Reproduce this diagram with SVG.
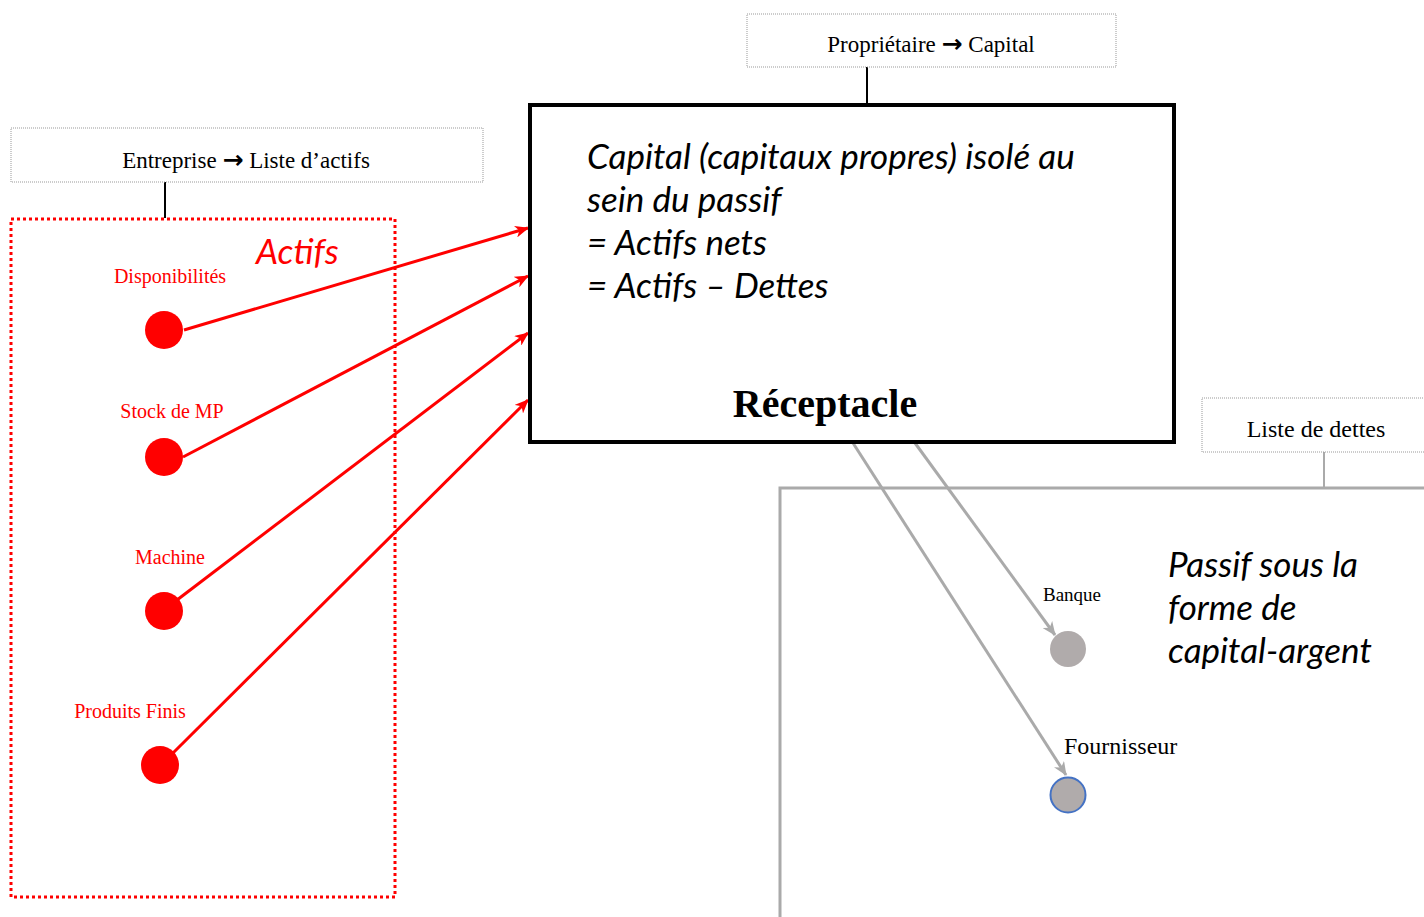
<svg xmlns="http://www.w3.org/2000/svg" width="1424" height="917" viewBox="0 0 1424 917">
<style>
.lbl{font-family:"Liberation Serif","Times New Roman",serif;fill:#000}
.arw{font-family:"DejaVu Sans",sans-serif;font-weight:bold}
.box{fill:#fff;stroke:#999;stroke-width:1;stroke-dasharray:1 1}
.ital{font-family:Lato,"Open Sans",sans-serif;font-style:italic}
.red{fill:#ff0000}
.rline{stroke:#ff0000;stroke-width:3;fill:none}
.gline{stroke:#aaaaaa;stroke-width:3;fill:none}
</style>
<defs>
<marker id="ar" markerUnits="userSpaceOnUse" markerWidth="14" markerHeight="12" refX="13" refY="6" orient="auto">
<path d="M0,0 L14,6 L0,12 L4,6 Z" fill="#ff0000"/>
</marker>
<marker id="ag" markerUnits="userSpaceOnUse" markerWidth="14" markerHeight="12" refX="13" refY="6" orient="auto">
<path d="M0,0 L14,6 L0,12 L4,6 Z" fill="#aaaaaa"/>
</marker>
</defs>
<rect width="1424" height="917" fill="#fff"/>

<g id="connectors">
<line x1="867" y1="67" x2="867" y2="105" stroke="#000" stroke-width="2"/>
<line x1="165" y1="182" x2="165" y2="218" stroke="#000" stroke-width="2"/>
<line x1="1324" y1="452" x2="1324" y2="488" stroke="#aaaaaa" stroke-width="2"/>
<line class="rline" x1="184" y1="330" x2="528" y2="228" marker-end="url(#ar)"/>
<line class="rline" x1="183" y1="457" x2="528" y2="276" marker-end="url(#ar)"/>
<line class="rline" x1="177" y1="600" x2="528" y2="333" marker-end="url(#ar)"/>
<line class="rline" x1="173" y1="753" x2="528" y2="400" marker-end="url(#ar)"/>
<line class="gline" x1="915" y1="443" x2="1055" y2="635" marker-end="url(#ag)"/>
<line class="gline" x1="853" y1="443" x2="1066" y2="775" marker-end="url(#ag)"/>
</g>

<g id="proprietaire">
<rect class="box" x="747" y="14" width="369" height="53"/>
<text class="lbl" x="931" y="52" font-size="23" text-anchor="middle">Propriétaire <tspan class="arw" font-size="25">→</tspan> Capital</text>
</g>

<g id="receptacle">
<rect x="530" y="105" width="644" height="337" fill="none" stroke="#000" stroke-width="4"/>
<text class="ital" font-size="35" fill="#000">
<tspan x="587" y="169">Capital (capitaux propres) isolé au</tspan>
<tspan x="587" y="212">sein du passif</tspan>
<tspan x="587" y="255">= Actifs nets</tspan>
<tspan x="587" y="298">= Actifs – Dettes</tspan>
</text>
<text class="lbl" x="825" y="417" font-size="40" font-weight="bold" text-anchor="middle">Réceptacle</text>
</g>

<g id="entreprise">
<rect class="box" x="11" y="128" width="472" height="54"/>
<text class="lbl" x="246" y="168" font-size="23" text-anchor="middle">Entreprise <tspan class="arw" font-size="25">→</tspan> Liste d’actifs</text>
</g>

<g id="actifs">
<rect x="11" y="219" width="384" height="678" fill="none" stroke="#ff0000" stroke-width="3" stroke-dasharray="3 3"/>
<text class="ital red" x="256" y="264" font-size="35">Actifs</text>
</g>

<g id="disponibilites">
<text class="lbl red" x="170" y="283" font-size="20" text-anchor="middle">Disponibilités</text>
<circle class="red" cx="164" cy="330" r="19"/>
</g>
<g id="stock">
<text class="lbl red" x="172" y="418" font-size="20" text-anchor="middle">Stock de MP</text>
<circle class="red" cx="164" cy="457" r="19"/>
</g>
<g id="machine">
<text class="lbl red" x="170" y="564" font-size="20" text-anchor="middle">Machine</text>
<circle class="red" cx="164" cy="611" r="19"/>
</g>
<g id="produits">
<text class="lbl red" x="130" y="718" font-size="20" text-anchor="middle">Produits Finis</text>
<circle class="red" cx="160" cy="765" r="19"/>
</g>

<g id="dettes">
<rect class="box" x="1202" y="398" width="230" height="54"/>
<text class="lbl" x="1316" y="437" font-size="24" text-anchor="middle">Liste de dettes</text>
</g>

<g id="passif">
<path d="M780,917 L780,488 L1424,488" fill="none" stroke="#aaaaaa" stroke-width="3"/>
<text class="ital" font-size="35" fill="#000">
<tspan x="1168" y="577">Passif sous la</tspan>
<tspan x="1168" y="620">forme de</tspan>
<tspan x="1168" y="663">capital-argent</tspan>
</text>
</g>

<g id="banque">
<text class="lbl" x="1043" y="601" font-size="19">Banque</text>
<circle cx="1068" cy="649" r="18" fill="#b0abab"/>
</g>
<g id="fournisseur">
<text class="lbl" x="1064" y="754" font-size="24">Fournisseur</text>
<circle cx="1068" cy="795" r="17.5" fill="#b0abab" stroke="#4472c4" stroke-width="2"/>
</g>
</svg>
